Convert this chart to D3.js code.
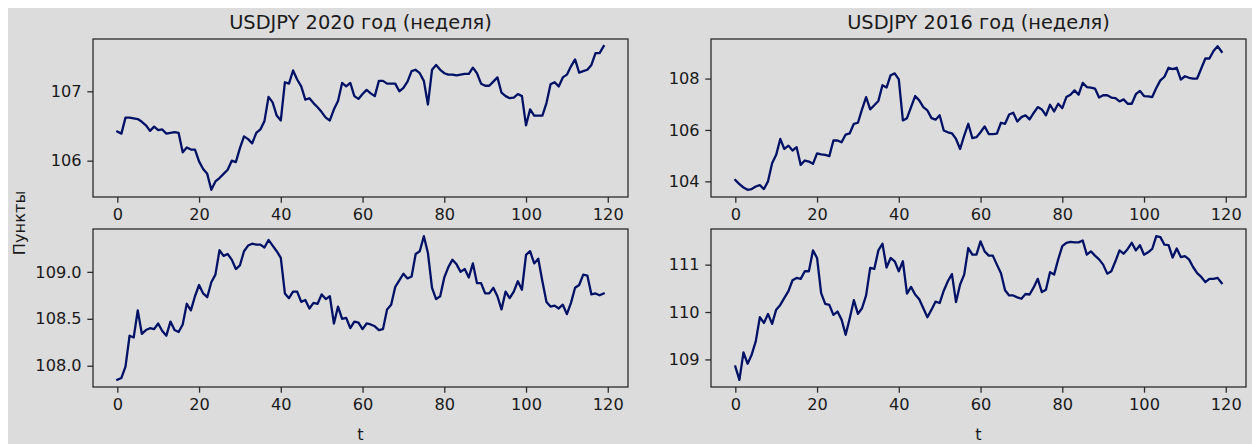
<!DOCTYPE html>
<html>
<head>
<meta charset="utf-8">
<script src="https://cdn.jsdelivr.net/npm/d3@7"></script>
<style>
  body { margin: 0; background: #ffffff; }
  svg { display: block; }
  text { font-family: "DejaVu Sans", sans-serif; fill: #1a1a1a; }
</style>
</head>
<body>
<svg id="chart" width="1252" height="444"></svg>
<script>
// Weekly USDJPY closes, 120 weeks per series
const weeks = d3.range(120);

const usdjpy2020Top = [
  106.42,106.39,106.62,106.62,106.61,106.60,106.56,106.51,106.43,106.49,
  106.44,106.45,106.39,106.40,106.41,106.40,106.12,106.19,106.16,106.16,
  105.99,105.88,105.81,105.58,105.70,105.75,105.81,105.87,106.00,105.98,
  106.18,106.35,106.31,106.25,106.40,106.45,106.57,106.92,106.84,106.65,
  106.58,107.13,107.11,107.30,107.17,107.07,106.88,106.90,106.83,106.77,
  106.70,106.62,106.58,106.74,106.86,107.12,107.07,107.12,106.93,106.89,
  106.96,107.02,106.97,106.93,107.15,107.15,107.11,107.11,107.11,107.00,
  107.05,107.14,107.29,107.31,107.26,107.15,106.81,107.31,107.38,107.31,
  107.26,107.24,107.24,107.23,107.24,107.25,107.25,107.34,107.26,107.11,
  107.08,107.08,107.14,107.20,106.98,106.93,106.90,106.91,106.96,106.93,
  106.51,106.74,106.65,106.65,106.65,106.83,107.10,107.13,107.07,107.20,
  107.24,107.36,107.46,107.27,107.29,107.31,107.38,107.55,107.55,107.65
];

const usdjpy2020Bottom = [
  107.85,107.87,107.99,108.32,108.30,108.59,108.34,108.38,108.40,108.39,
  108.45,108.37,108.32,108.47,108.38,108.36,108.44,108.66,108.59,108.74,
  108.86,108.77,108.73,108.89,108.97,109.23,109.17,109.19,109.13,109.03,
  109.07,109.22,109.28,109.30,109.29,109.29,109.26,109.34,109.28,109.22,
  109.15,108.77,108.72,108.79,108.79,108.68,108.70,108.61,108.67,108.66,
  108.76,108.71,108.74,108.45,108.63,108.50,108.51,108.40,108.47,108.46,
  108.39,108.45,108.44,108.42,108.38,108.39,108.60,108.65,108.84,108.91,
  108.98,108.93,108.95,109.19,109.22,109.38,109.20,108.83,108.71,108.74,
  108.94,109.05,109.13,109.08,109.00,109.03,108.94,109.09,108.88,108.88,
  108.77,108.77,108.83,108.74,108.60,108.79,108.72,108.79,108.90,108.81,
  109.18,109.22,109.09,109.14,108.90,108.68,108.63,108.64,108.61,108.65,
  108.55,108.67,108.83,108.86,108.97,108.96,108.76,108.77,108.75,108.77
];

const usdjpy2016Top = [
  104.05,103.89,103.76,103.67,103.70,103.80,103.85,103.70,104.00,104.70,
  105.03,105.65,105.26,105.39,105.20,105.33,104.64,104.81,104.77,104.68,
  105.09,105.05,105.03,104.98,105.59,105.59,105.52,105.82,105.87,106.24,
  106.28,106.80,107.28,106.80,106.96,107.13,107.74,107.65,108.13,108.20,
  107.97,106.37,106.46,106.89,107.32,107.15,106.89,106.76,106.46,106.40,
  106.57,105.98,105.91,105.87,105.65,105.26,105.78,106.24,105.68,105.72,
  105.91,106.14,105.84,105.84,105.86,106.28,106.24,106.60,106.67,106.33,
  106.50,106.57,106.41,106.66,106.89,106.80,106.57,106.98,106.72,107.02,
  106.85,107.28,107.37,107.54,107.37,107.83,107.67,107.65,107.61,107.26,
  107.35,107.35,107.26,107.24,107.11,107.19,107.02,107.02,107.39,107.52,
  107.32,107.31,107.28,107.63,107.93,108.07,108.42,108.37,108.42,107.96,
  108.09,108.03,108.00,108.00,108.39,108.78,108.78,109.07,109.26,109.04
];

const usdjpy2016Bottom = [
  108.85,108.57,109.15,108.91,109.10,109.38,109.89,109.77,109.96,109.75,
  110.05,110.15,110.30,110.44,110.67,110.72,110.70,110.86,110.86,111.30,
  111.14,110.40,110.17,110.15,109.94,110.01,109.84,109.52,109.87,110.25,
  109.96,110.08,110.35,110.93,110.91,111.30,111.44,110.94,111.14,111.07,
  110.86,111.07,110.39,110.53,110.37,110.27,110.08,109.89,110.05,110.22,
  110.19,110.45,110.65,110.80,110.21,110.58,110.79,111.35,111.21,111.21,
  111.49,111.28,111.19,111.19,111.00,110.82,110.46,110.35,110.35,110.31,
  110.28,110.38,110.37,110.52,110.70,110.42,110.47,110.84,110.79,111.11,
  111.39,111.46,111.48,111.47,111.47,111.51,111.21,111.28,111.19,111.11,
  111.00,110.81,110.86,111.07,111.30,111.23,111.33,111.46,111.30,111.41,
  111.21,111.26,111.33,111.60,111.58,111.42,111.41,111.15,111.34,111.16,
  111.18,111.11,110.95,110.82,110.74,110.63,110.70,110.70,110.72,110.61
];

const columnTitles = ["USDJPY 2020 год (неделя)", "USDJPY 2016 год (неделя)"];
const xTickValues = [0, 20, 40, 60, 80, 100, 120];
const yTicks2020Top = [106, 107];
const yTicks2020Bottom = [108.0, 108.5, 109.0];
const yTicks2016Top = [104, 106, 108];
const yTicks2016Bottom = [109, 110, 111];
const yAxisLabel = "Пункты";
const xAxisLabel = "t";

// Layout
const W = 1252, H = 444;
const colX = [[93, 628], [711, 1246]];
const rowY = [[39, 197], [229, 387]];
const pt = 1.62;             // px per point
const tickLen = 3.5 * pt;
const tickPad = 3.5 * pt;
const tickFont = 16.2;
const titleFont = 19.4;
const bg = "#dcdcdc";
const lineColor = "#001166";
const spineColor = "#2b2b2b";

const svg = d3.select("#chart");
svg.append("rect").attr("x", 8).attr("y", 8).attr("width", W - 8).attr("height", H - 8).attr("fill", bg);

const panels = [
  { col: 0, row: 0, values: usdjpy2020Top, ticks: yTicks2020Top, fmt: d3.format("d") },
  { col: 1, row: 0, values: usdjpy2016Top, ticks: yTicks2016Top, fmt: d3.format("d") },
  { col: 0, row: 1, values: usdjpy2020Bottom, ticks: yTicks2020Bottom, fmt: d3.format(".1f") },
  { col: 1, row: 1, values: usdjpy2016Bottom, ticks: yTicks2016Bottom, fmt: d3.format("d") }
];

panels.forEach(p => {
  const [x0, x1] = colX[p.col];
  const [y0, y1] = rowY[p.row];
  const n = p.values.length;
  const xm = (n - 1) * 0.05;
  const x = d3.scaleLinear().domain([-xm, n - 1 + xm]).range([x0, x1]);
  const [lo, hi] = d3.extent(p.values);
  const ym = (hi - lo) * 0.05;
  const y = d3.scaleLinear().domain([lo - ym, hi + ym]).range([y1, y0]);

  const g = svg.append("g");

  g.append("rect")
    .attr("x", x0).attr("y", y0).attr("width", x1 - x0).attr("height", y1 - y0)
    .attr("fill", bg);

  g.append("path")
    .datum(weeks)
    .attr("fill", "none")
    .attr("stroke", lineColor)
    .attr("stroke-width", 2.3)
    .attr("stroke-linejoin", "round")
    .attr("stroke-linecap", "square")
    .attr("d", d3.line().x(i => x(i)).y(i => y(p.values[i])));

  const xAxis = g.append("g")
    .attr("transform", `translate(0,${y1})`)
    .call(d3.axisBottom(x).tickValues(xTickValues).tickSize(tickLen).tickPadding(tickPad).tickSizeOuter(0).tickFormat(d3.format("d")));
  const yAxis = g.append("g")
    .attr("transform", `translate(${x0},0)`)
    .call(d3.axisLeft(y).tickValues(p.ticks).tickSize(tickLen).tickPadding(tickPad).tickSizeOuter(0).tickFormat(p.fmt));

  [xAxis, yAxis].forEach(a => {
    a.select(".domain").remove();
    a.selectAll("line").attr("stroke", spineColor).attr("stroke-width", 1.3);
    a.selectAll("text").attr("font-size", tickFont).attr("fill", "#1a1a1a")
      .style("font-family", "'DejaVu Sans', sans-serif");
  });

  g.append("rect")
    .attr("x", x0).attr("y", y0).attr("width", x1 - x0).attr("height", y1 - y0)
    .attr("fill", "none").attr("stroke", spineColor).attr("stroke-width", 1.3);

  if (p.row === 0) {
    svg.append("text")
      .attr("x", (x0 + x1) / 2).attr("y", y0 - 6 * pt)
      .attr("text-anchor", "middle")
      .attr("font-size", titleFont)
      .text(columnTitles[p.col]);
  } else {
    svg.append("text")
      .attr("x", (x0 + x1) / 2).attr("y", 440)
      .attr("text-anchor", "middle")
      .attr("font-size", tickFont)
      .text(xAxisLabel);
  }
});

svg.append("text")
  .attr("transform", `translate(25,223) rotate(-90)`)
  .attr("text-anchor", "middle")
  .attr("font-size", tickFont)
  .text(yAxisLabel);
</script>
</body>
</html>
